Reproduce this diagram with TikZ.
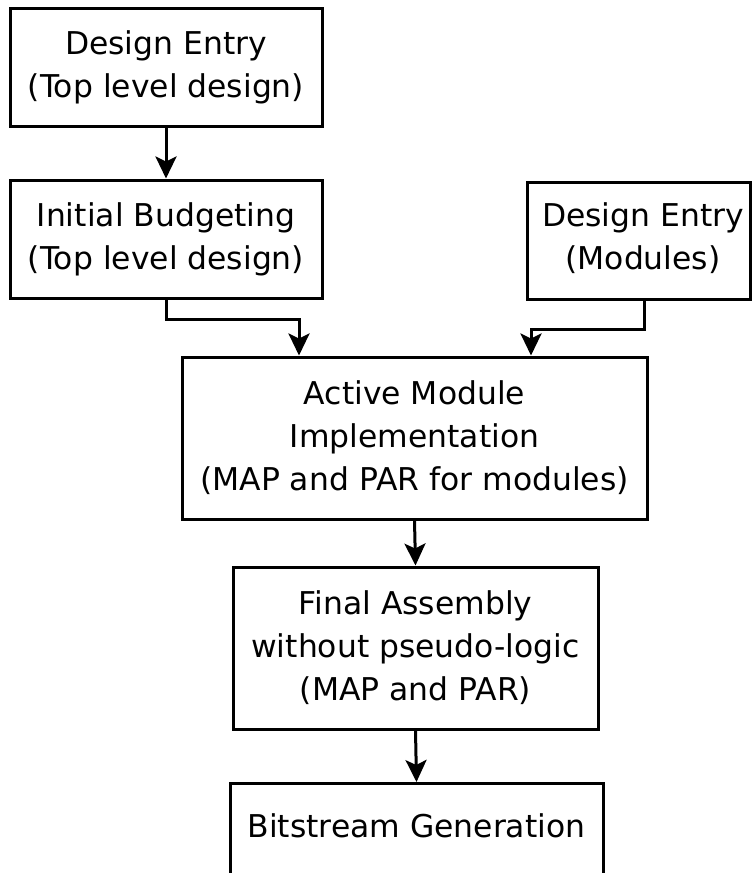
\documentclass[tikz,border=0pt]{standalone}
\usepackage{fontspec}
\setmainfont{DejaVu Sans}
\usetikzlibrary{arrows.meta}
\tikzset{
  label font/.style={font=\fontsize{31.4}{43}\selectfont},
  box/.style={draw=black, line width=3pt, fill=white, align=center, inner sep=0pt, label font},
  flow/.style={line width=3pt, -{Stealth[length=22pt,width=21pt,inset=5pt]}},
}
\begin{document}
\begin{tikzpicture}[x=1pt,y=-1pt]
  \useasboundingbox (0,0) rectangle (752,873);
  \clip (0,0) rectangle (752,873);
  \fill[white] (0,0) rectangle (752,873);

  % top level flow
  \node[box, minimum width=312pt, minimum height=118pt] (entry) at (166,67)
    {Design Entry\\(Top level design)};
  \node[box, minimum width=312pt, minimum height=118pt] (budget) at (166,239)
    {Initial Budgeting\\(Top level design)};
  % module entry: frame and its caption
  \node[box, minimum width=223.5pt, minimum height=117pt] (mods) at (638.75,240.5) {};
  \node[label font, align=center, inner sep=0pt] (modstext) at (643,238)
    {Design Entry\\(Modules)};
  \node[box, minimum width=465pt, minimum height=162pt] (active) at (414.5,438)
    {Active Module\\Implementation\\(MAP and PAR for modules)};
  \node[box, minimum width=365pt, minimum height=162pt] (final) at (415.5,648)
    {Final Assembly\\without pseudo-logic\\(MAP and PAR)};
  % last box runs past the lower edge of the page
  \node[box, minimum width=373pt, minimum height=160pt, anchor=north] (bits) at (416.5,782) {};
  \node[label font, inner sep=0pt] (bitstext) at (416.5,826) {Bitstream Generation};

  % connectors
  \draw[flow] (entry.south) -- (budget.north);
  \draw[flow] (budget.south) -- ++(0,20) -| ([xshift=-115.5pt]active.north);
  \draw[flow] ([xshift=5.25pt]mods.south) -- ++(0,29) -| ([xshift=116.5pt]active.north);
  \draw[flow] (active.south) -- (final.north);
  \draw[flow] (final.south) -- (bits.north);
\end{tikzpicture}
\end{document}
